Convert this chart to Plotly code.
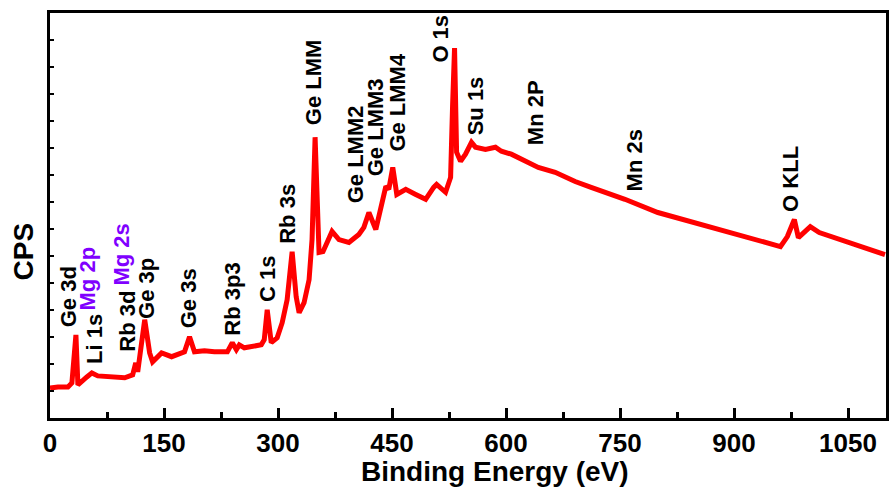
import plotly.graph_objects as go

# Survey spectrum (binding energy in eV, intensity in arbitrary CPS units)
energy = [0, 10.5, 23.6, 28.8, 34.1, 36.7, 48.5, 55.1, 62.9, 81.3, 98.3, 108.8, 112.8, 115.4,
          124.6, 131.1, 135.0, 146.8, 160.0, 177.0, 183.6, 190.1, 203.2, 216.3, 233.4, 239.9,
          245.2, 249.1, 255.7, 278.0, 281.9, 285.8, 291.1, 298.9, 305.5, 312.0, 318.6, 323.9,
          327.8, 334.3, 340.9, 344.8, 348.8, 354.0, 359.2, 371.1, 380.2, 393.3, 406.4, 413.0,
          419.6, 428.7, 441.9, 445.8, 451.0, 456.3, 468.1, 481.2, 494.3, 504.8, 508.7, 520.5,
          527.1, 529.7, 532.3, 535.0, 540.2, 546.7, 554.6, 559.8, 573.0, 586.1, 593.9, 607.0,
          625.4, 642.5, 664.7, 691.0, 712.0, 756.5, 799.8, 843.1, 887.6, 930.9, 961.1, 970.2,
          979.4, 984.7, 989.9, 1000.4, 1012.2, 1039.7, 1062.0, 1098.7]
cps = [1.11, 1.15, 1.15, 1.30, 3.08, 1.23, 1.52, 1.67, 1.56, 1.52, 1.49, 1.60, 2.04, 1.71,
       3.64, 2.41, 2.08, 2.41, 2.27, 2.45, 3.01, 2.45, 2.49, 2.45, 2.45, 2.79,
       2.53, 2.71, 2.60, 2.71, 2.90, 4.01, 2.79, 2.97, 3.53, 4.38, 6.16, 4.49,
       3.90, 4.27, 5.12, 6.61, 10.40, 6.13, 6.16, 6.91, 6.61, 6.50, 6.80, 7.06,
       7.61, 6.98, 8.58, 8.47, 9.28, 8.28, 8.47, 8.28, 8.10, 8.54, 8.65, 8.36,
       8.91, 11.55, 13.70, 9.84, 9.51, 9.77, 10.21, 10.03, 9.95, 10.03, 9.88, 9.77,
       9.51, 9.28, 9.10, 8.76, 8.54, 8.10, 7.61, 7.28, 6.91, 6.61, 6.35, 6.72,
       7.35, 6.68, 6.80, 7.09, 6.87, 6.61, 6.42, 6.05]

# Peak labels: text, x position (eV), base of label (CPS units), colour group
peak_labels = ["Ge 3d", "Mg 2p", "Li 1s", "Rb 3d", "Mg 2s", "Ge 3p", "Ge 3s", "Rb 3p3", "C 1s",
               "Rb 3s", "Ge LMM", "Ge LMM2", "Ge LMM3", "Ge LMM4", "O 1s", "Su 1s", "Mn 2P",
               "Mn 2s", "O KLL"]
label_x = [23.6, 49.8, 57.7, 101.6, 94.4, 127.2, 182.3, 240.0, 285.8,
           313.3, 346.1, 402.5, 428.7, 457.6, 512.6, 559.8, 639.8, 769.6, 974.2]
label_y = [3.34, 3.94, 1.96, 2.41, 4.86, 3.64, 3.27, 3.01, 4.27,
           6.42, 10.81, 7.91, 8.91, 9.84, 13.11, 10.43, 10.06, 8.35, 7.61]
label_purple = [False, True, False, False, True, False, False, False, False,
                False, False, False, False, False, False, False, False, False, False]

x_ticks = [0, 150, 300, 450, 600, 750, 900, 1050]

FONT = "Liberation Sans, Arial, sans-serif"

fig = go.Figure()
fig.add_trace(go.Scatter(x=energy, y=cps, mode="lines",
                         line=dict(color="#FF0000", width=5), showlegend=False,
                         hoverinfo="skip"))

for t, lx, ly, p in zip(peak_labels, label_x, label_y, label_purple):
    fig.add_annotation(x=lx, y=ly, xref="x", yref="y", text=t, textangle=-90,
                       showarrow=False, xanchor="center", yanchor="bottom",
                       font=dict(family=FONT, size=22, weight="bold",
                                 color="#8000FF" if p else "black"),
                       borderpad=0)

fig.add_annotation(x=586, y=-0.133, xref="x", yref="paper", text="Binding Energy (eV)",
                   showarrow=False, xanchor="center", yanchor="middle",
                   font=dict(family=FONT, size=28, weight="bold", color="black"))
fig.add_annotation(x=-0.032, y=0.412, xref="paper", yref="paper", text="CPS",
                   textangle=-90, showarrow=False, xanchor="center", yanchor="middle",
                   font=dict(family=FONT, size=28, weight="bold", color="black"))

fig.update_xaxes(range=[0, 1100], tickvals=x_ticks, ticktext=[str(v) for v in x_ticks],
                 ticks="inside", ticklen=10, tickwidth=3, tickcolor="black",
                 minor=dict(ticks="inside", ticklen=6, tickwidth=3, tickcolor="black",
                            tickvals=[75, 225, 375, 525, 675, 825, 975]),
                 showline=True, linewidth=3, linecolor="black", mirror=True,
                 showgrid=False, zeroline=False,
                 tickfont=dict(family=FONT, size=26, weight="bold", color="black"))
fig.update_yaxes(range=[0, 15], tickvals=list(range(1, 15)), showticklabels=False,
                 ticks="inside", ticklen=4, tickwidth=2, tickcolor="black",
                 showline=True, linewidth=3, linecolor="black", mirror=True,
                 showgrid=False, zeroline=False)

fig.update_layout(width=891, height=488, margin=dict(l=50, r=2, t=13, b=70),
                  paper_bgcolor="white", plot_bgcolor="white")

fig.write_html("out.html")
